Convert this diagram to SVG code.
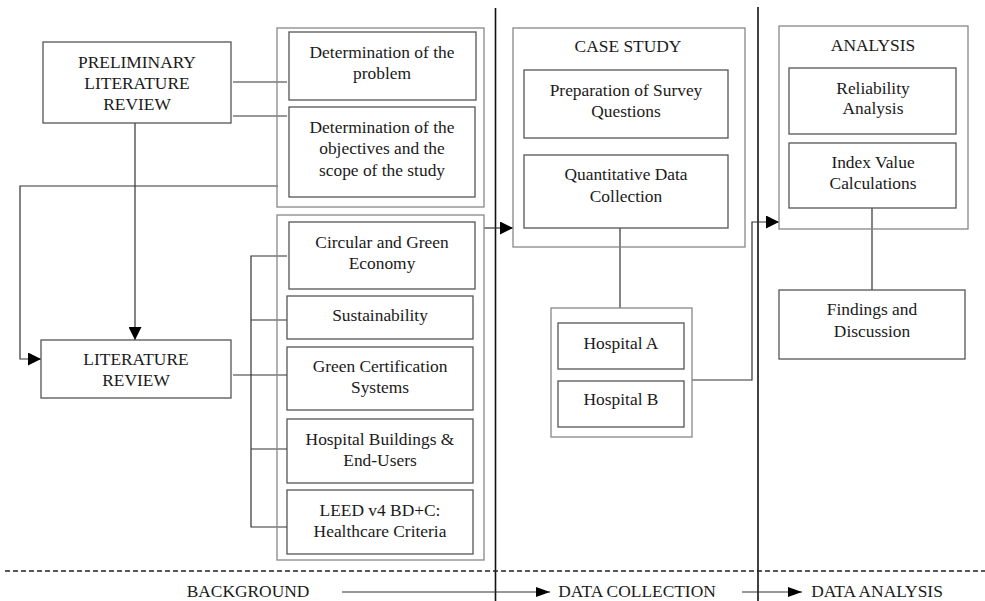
<svg xmlns="http://www.w3.org/2000/svg" width="985" height="601" viewBox="0 0 985 601">
<defs>
<marker id="ahL" viewBox="0 0 10 10" refX="10" refY="5" markerWidth="13" markerHeight="13" markerUnits="userSpaceOnUse" orient="auto">
<path d="M0,0 L10,5 L0,10 z" fill="#000"/>
</marker>
<marker id="ahB" viewBox="0 0 14 10" refX="14" refY="5" markerWidth="14" markerHeight="11" markerUnits="userSpaceOnUse" orient="auto">
<path d="M0,0 L14,5 L0,10 z" fill="#000"/>
</marker>
</defs>
<style>
text{font-family:"Liberation Serif","Times New Roman",serif;font-size:17.4px;fill:#1a1a1a;text-anchor:middle}
.box{fill:#fff;stroke:#555;stroke-width:1.3}
.outer{fill:none;stroke:#888;stroke-width:1.3}
.c{fill:none;stroke:#333;stroke-width:1.2}
.sep{fill:none;stroke:#111;stroke-width:1.6}
</style>
<rect width="985" height="601" fill="#fff"/>

<g id="separators">
<line class="sep" x1="495.5" y1="8" x2="495.5" y2="601"/>
<line class="sep" x1="758" y1="7" x2="758" y2="601"/>
<line x1="5" y1="571" x2="985" y2="571" stroke="#222" stroke-width="1.3" stroke-dasharray="5,3"/>
</g>

<g id="connectors">
<polyline class="c" points="233,82 287,82"/>
<polyline class="c" points="233,116 287,116"/>
<polyline class="c" points="135,123 135,340" marker-end="url(#ahL)"/>
<polyline class="c" points="278,186 20,186 20,359 41,359" marker-end="url(#ahL)"/>
<polyline class="c" points="233,375 290,375"/>
<polyline class="c" points="287,256 251,256 251,527 287,527"/>
<polyline class="c" points="251,320 287,320"/>
<polyline class="c" points="251,449 287,449"/>
<polyline class="c" points="484,228 513,228" marker-end="url(#ahL)"/>
<polyline class="c" points="620,228 620,308"/>
<polyline class="c" points="692,380 752,380 752,222 779,222" marker-end="url(#ahL)"/>
<polyline class="c" points="872,208 872,290"/>
<polyline class="c" points="342,592 550,592" marker-end="url(#ahB)"/>
<polyline class="c" points="742,592 802,592" marker-end="url(#ahB)"/>
</g>

<g id="prelim">
<rect class="box" x="43" y="42" width="188" height="81"/>
<text x="137" y="68">PRELIMINARY</text>
<text x="137" y="89">LITERATURE</text>
<text x="137" y="110">REVIEW</text>
</g>

<g id="group1">
<rect class="outer" x="277" y="28" width="207" height="179"/>
</g>
<g id="det-problem">
<rect class="box" x="289" y="32" width="187" height="68"/>
<text x="382" y="58">Determination of the</text>
<text x="382" y="79">problem</text>
</g>
<g id="det-objectives">
<rect class="box" x="289" y="107" width="186" height="90"/>
<text x="382" y="133">Determination of the</text>
<text x="382" y="154">objectives and the</text>
<text x="382" y="176">scope of the study</text>
</g>

<g id="litreview">
<rect class="box" x="41" y="340" width="190" height="58"/>
<text x="136" y="365">LITERATURE</text>
<text x="136" y="386">REVIEW</text>
</g>

<g id="group2">
<rect class="outer" x="277" y="215" width="207" height="345"/>
</g>
<g id="circular">
<rect class="box" x="289" y="222" width="186" height="67"/>
<text x="382" y="248">Circular and Green</text>
<text x="382" y="269">Economy</text>
</g>
<g id="sustainability">
<rect class="box" x="287" y="296" width="186" height="43"/>
<text x="380" y="321">Sustainability</text>
</g>
<g id="greencert">
<rect class="box" x="287" y="347" width="186" height="63"/>
<text x="380" y="372">Green Certification</text>
<text x="380" y="393">Systems</text>
</g>
<g id="hospbuild">
<rect class="box" x="287" y="419" width="186" height="64"/>
<text x="380" y="445">Hospital Buildings &amp;</text>
<text x="380" y="466">End-Users</text>
</g>
<g id="leed">
<rect class="box" x="287" y="490" width="186" height="64"/>
<text x="380" y="516">LEED v4 BD+C:</text>
<text x="380" y="537">Healthcare Criteria</text>
</g>

<g id="casestudy">
<rect class="outer" x="513" y="28" width="232" height="219"/>
<text x="628" y="52">CASE STUDY</text>
</g>
<g id="survey">
<rect class="box" x="524" y="70" width="204" height="68"/>
<text x="626" y="96">Preparation of Survey</text>
<text x="626" y="117">Questions</text>
</g>
<g id="quant">
<rect class="box" x="524" y="155" width="204" height="73"/>
<text x="626" y="180">Quantitative Data</text>
<text x="626" y="202">Collection</text>
</g>

<g id="hospitals">
<rect class="outer" x="551" y="308" width="141" height="129"/>
</g>
<g id="hospA">
<rect class="box" x="558" y="323" width="126" height="46"/>
<text x="621" y="349">Hospital A</text>
</g>
<g id="hospB">
<rect class="box" x="558" y="381" width="126" height="46"/>
<text x="621" y="405">Hospital B</text>
</g>

<g id="analysis">
<rect class="outer" x="779" y="26" width="189" height="203"/>
<text x="873" y="51">ANALYSIS</text>
</g>
<g id="reliability">
<rect class="box" x="789" y="68" width="167" height="66"/>
<text x="873" y="94">Reliability</text>
<text x="873" y="114">Analysis</text>
</g>
<g id="index">
<rect class="box" x="789" y="143" width="167" height="65"/>
<text x="873" y="168">Index Value</text>
<text x="873" y="189">Calculations</text>
</g>
<g id="findings">
<rect class="box" x="779" y="290" width="186" height="69"/>
<text x="872" y="315">Findings and</text>
<text x="872" y="337">Discussion</text>
</g>

<g id="phases">
<text x="248" y="597">BACKGROUND</text>
<text x="637" y="597">DATA COLLECTION</text>
<text x="877" y="597">DATA ANALYSIS</text>
</g>
</svg>
